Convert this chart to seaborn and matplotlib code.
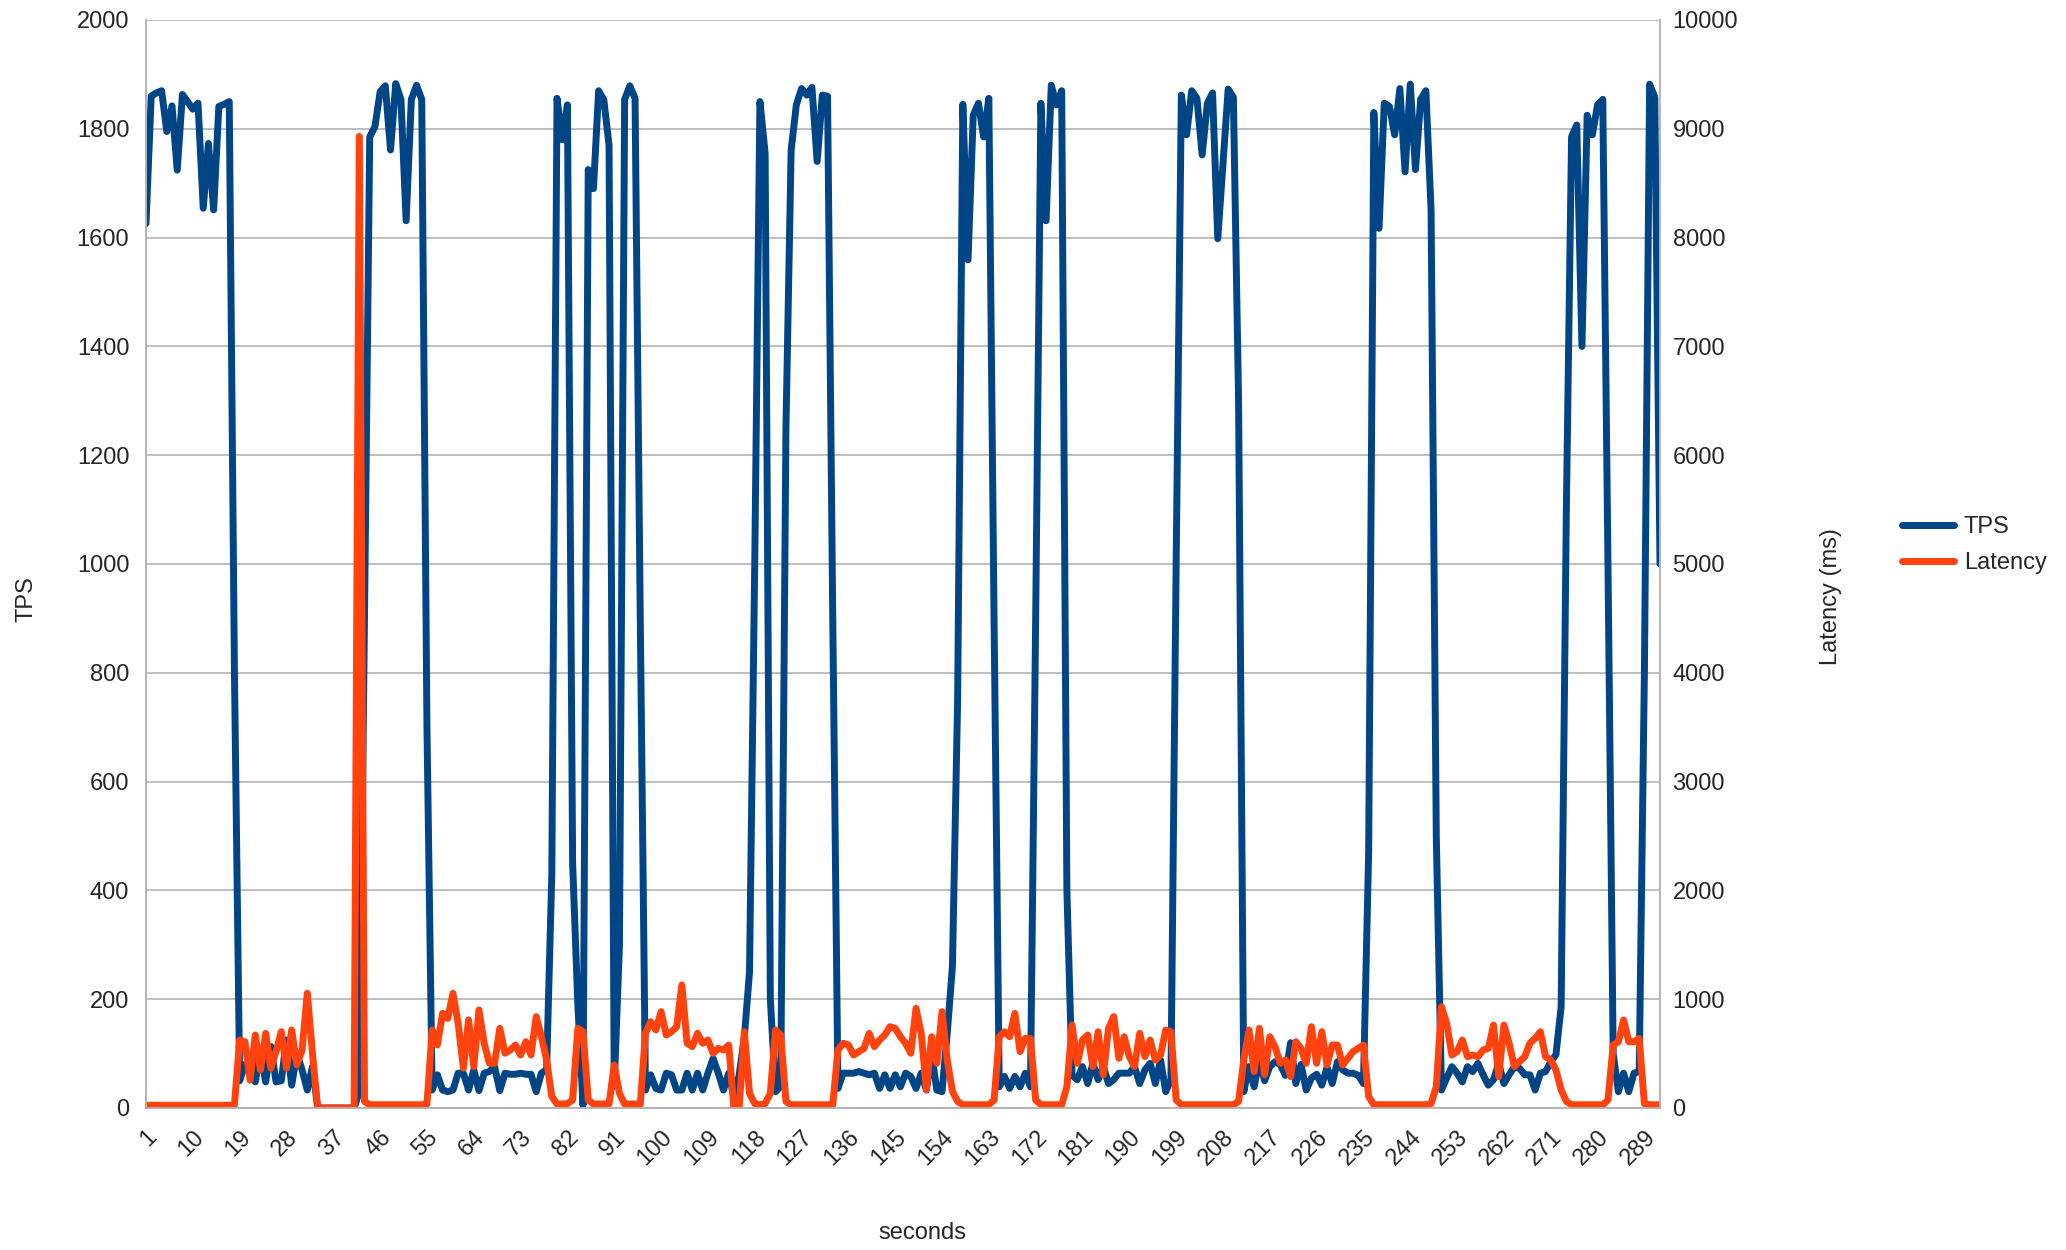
import matplotlib
matplotlib.use("Agg")
import matplotlib.pyplot as plt
import seaborn as sns
import pandas as pd
from matplotlib.lines import Line2D
from matplotlib.ticker import FixedLocator, MultipleLocator

# data (one sample per second)
seconds = list(range(1, 293))

tps = [
    1626, 1860, 1866, 1870, 1795, 1842, 1724, 1863, 1850, 1836,
    1847, 1654, 1773, 1651, 1841, 1845, 1850, 800, 50, 80,
    76, 48, 106, 48, 113, 48, 50, 125, 42, 100,
    70, 33, 76, 0, 0, 0, 0, 0, 0, 0,
    0, 30, 900, 1785, 1804, 1868, 1879, 1761, 1883, 1854,
    1631, 1854, 1880, 1854, 700, 33, 61, 33, 30, 33,
    64, 64, 33, 70, 32, 64, 67, 76, 32, 64,
    62, 62, 64, 62, 62, 30, 64, 70, 430, 1856,
    1780, 1844, 450, 190, 5, 1725, 1690, 1870, 1853, 1770,
    40, 300, 1854, 1879, 1856, 900, 33, 61, 36, 33,
    64, 61, 33, 33, 64, 33, 64, 33, 64, 91,
    64, 33, 64, 20, 60, 130, 250, 1000, 1850, 1755,
    200, 30, 40, 1250, 1761, 1844, 1874, 1862, 1876, 1740,
    1862, 1860, 900, 36, 64, 64, 64, 67, 64, 61,
    64, 36, 61, 36, 61, 39, 64, 58, 36, 64,
    33, 100, 33, 30, 137, 260, 750, 1845, 1559, 1825,
    1847, 1785, 1856, 900, 39, 58, 36, 58, 39, 64,
    39, 900, 1847, 1631, 1880, 1844, 1870, 400, 60, 52,
    76, 45, 82, 52, 76, 45, 52, 64, 64, 64,
    76, 45, 70, 82, 45, 88, 30, 52, 1000, 1862,
    1789, 1870, 1856, 1752, 1847, 1866, 1598, 1735, 1873, 1858,
    1300, 30, 76, 39, 90, 50, 76, 85, 80, 60,
    120, 45, 80, 33, 55, 62, 42, 75, 45, 85,
    70, 64, 64, 60, 45, 470, 1830, 1617, 1847, 1841,
    1789, 1874, 1721, 1882, 1725, 1854, 1870, 1651, 500, 33,
    55, 76, 64, 48, 76, 67, 82, 61, 42, 52,
    82, 45, 61, 76, 73, 61, 61, 33, 64, 67,
    85, 98, 186, 1100, 1785, 1807, 1400, 1825, 1789, 1844,
    1854, 1000, 100, 30, 64, 30, 64, 67, 800, 1882,
    1858, 1000,
]

latency = [
    25, 25, 25, 25, 25, 25, 25, 25, 25, 25,
    25, 25, 25, 25, 25, 25, 25, 30, 625, 609,
    257, 671, 349, 686, 365, 520, 701, 365, 717, 395,
    533, 1054, 500, 0, 0, 0, 0, 0, 0, 0,
    0, 8930, 60, 30, 30, 30, 30, 30, 30, 30,
    30, 30, 30, 30, 37, 717, 579, 870, 824, 1054,
    776, 365, 809, 380, 901, 595, 411, 411, 732, 503,
    533, 579, 487, 609, 487, 840, 655, 441, 104, 37,
    37, 40, 74, 732, 701, 74, 37, 37, 37, 37,
    395, 135, 37, 37, 37, 30, 686, 793, 717, 885,
    671, 701, 747, 1130, 595, 564, 686, 595, 625, 503,
    548, 533, 579, 0, 0, 701, 135, 40, 30, 40,
    135, 717, 671, 60, 30, 30, 30, 30, 30, 30,
    30, 30, 30, 533, 595, 579, 487, 518, 548, 686,
    564, 625, 671, 747, 732, 655, 595, 503, 916, 686,
    168, 655, 411, 885, 441, 153, 60, 30, 30, 30,
    30, 30, 30, 74, 655, 701, 655, 870, 518, 640,
    640, 74, 30, 30, 30, 30, 30, 196, 762, 411,
    625, 671, 380, 701, 304, 732, 840, 457, 655, 472,
    380, 686, 472, 625, 441, 487, 717, 701, 74, 30,
    30, 30, 30, 30, 30, 30, 30, 30, 30, 30,
    60, 441, 717, 334, 732, 304, 655, 564, 411, 441,
    288, 609, 548, 411, 747, 411, 701, 395, 579, 579,
    395, 457, 518, 548, 579, 104, 30, 30, 30, 30,
    30, 30, 30, 30, 30, 30, 30, 40, 196, 931,
    778, 487, 518, 625, 472, 487, 472, 533, 548, 762,
    288, 762, 595, 380, 426, 472, 595, 640, 701, 472,
    441, 349, 168, 60, 30, 30, 30, 30, 30, 30,
    30, 74, 579, 609, 809, 609, 609, 640, 40, 30,
    30, 30,
]

x_labels = list(range(1, 293, 9))

df = pd.DataFrame({"seconds": seconds, "TPS": tps, "Latency": latency})

sns.set_style("white")
plt.rcParams["font.family"] = ["Liberation Sans", "DejaVu Sans"]

tps_color = "#004586"
lat_color = "#ff420e"
grid_color = "#b3b3b3"
fs = 17

fig = plt.figure(figsize=(20.66, 12.5), dpi=100)
ax = fig.add_axes([146 / 2066, 1 - 1108 / 1250, 1514 / 2066, 1088 / 1250])
ax2 = ax.twinx()

sns.lineplot(data=df, x="seconds", y="TPS", ax=ax, color=tps_color, lw=5, legend=False)
sns.lineplot(data=df, x="seconds", y="Latency", ax=ax2, color=lat_color, lw=5, legend=False)

ax.set_xlim(1, 292)
ax.set_ylim(0, 2000)
ax2.set_ylim(0, 10000)
ax.yaxis.set_major_locator(MultipleLocator(200))
ax2.yaxis.set_major_locator(MultipleLocator(1000))

ax.xaxis.set_major_locator(FixedLocator(x_labels))
ax.xaxis.set_minor_locator(MultipleLocator(1))
ax.set_xticklabels([str(v) for v in x_labels], rotation=45, ha="right",
                   va="top", rotation_mode="anchor", fontsize=fs)

ax.grid(axis="y", color=grid_color, lw=1.2)
ax.set_axisbelow(True)
for a in (ax, ax2):
    for s in a.spines.values():
        s.set_color(grid_color)
        s.set_linewidth(1.2)
    a.spines["top"].set_visible(False)

ax.tick_params(axis="x", which="both", direction="out", length=7, width=1.2,
               color=grid_color, pad=6)
ax.tick_params(axis="y", length=0, pad=12, labelsize=fs)
ax2.tick_params(axis="y", length=0, pad=9, labelsize=fs)

ax.set_xlabel("seconds", fontsize=fs)
ax.set_ylabel("TPS", fontsize=fs)
ax2.set_ylabel("Latency (ms)", fontsize=fs)
ax.xaxis.set_label_coords(0.5125, -0.105)
ax.yaxis.set_label_coords(-0.0715, 0.468)
ax2.yaxis.set_label_coords(1.1055, 0.47)

handles = [Line2D([], [], color=tps_color, lw=5), Line2D([], [], color=lat_color, lw=5)]
fig.legend(handles, ["TPS", "Latency"], loc="center left",
           bbox_to_anchor=(1881 / 2066, 1 - 545 / 1250), frameon=False,
           fontsize=fs, handlelength=2.2, handletextpad=0.4, labelspacing=0.6)

fig.savefig("out.png", dpi=100)
